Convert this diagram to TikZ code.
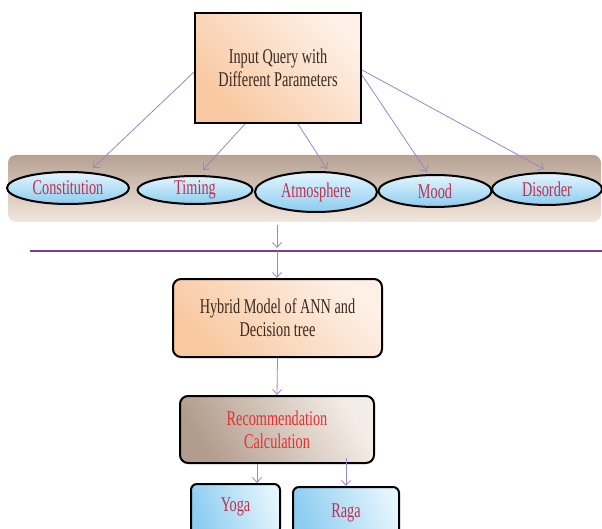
\documentclass[tikz,border=0pt]{standalone}
\usepackage{fontspec}
\setmainfont{Liberation Serif}[FakeStretch=0.68]
\usepackage{tikz}
\usetikzlibrary{shapes.geometric,arrows.meta}
\definecolor{peachA}{HTML}{F8C8A0}
\definecolor{peachB}{HTML}{FEF0E6}
\definecolor{brownA}{HTML}{B29C8C}
\definecolor{brownB}{HTML}{F4EDE7}
\definecolor{bandA}{HTML}{B6A293}
\definecolor{bandB}{HTML}{F2E7DE}
\definecolor{skyA}{HTML}{8CCDF0}
\definecolor{skyB}{HTML}{E4F5FD}
\definecolor{arrowcol}{HTML}{9A86C6}
\definecolor{barcol}{HTML}{7A3D96}
\definecolor{crimson}{HTML}{C0304F}
\definecolor{recred}{HTML}{E5302E}
\definecolor{darktext}{HTML}{3A2A22}

\begin{document}
\begin{tikzpicture}[x=1pt,y=-1pt,->,>={Straight Barb[length=5pt,width=9pt]},
        every node/.style={font=\fontsize{21}{23}\selectfont,align=center},
        peachbox/.style={draw=black,line width=2pt,text=darktext,
                left color=peachA,right color=peachB,shading angle=135},
        band/.style={draw=none,rounded corners=8pt,top color=bandA,bottom color=bandB},
        param/.style={ellipse,draw=black,line width=2pt,inner sep=0pt,text=crimson,
                top color=skyB,bottom color=skyA},
        recbox/.style={draw=black,line width=2pt,rounded corners=8pt,text=recred,
                left color=brownA,right color=brownB,shading angle=120},
        outbox/.style={draw=black,line width=2pt,rounded corners=6pt,text=crimson,
                left color=skyA,right color=skyB,shading angle=110},
        flow/.style={draw=arrowcol,line width=0.8pt}]
        \clip (0,0) rectangle (602,529);

        \node[peachbox,minimum width=166pt,minimum height=110pt] (query) at (278,68)
                {Input Query with\\Different Parameters};

        \node[band,minimum width=593pt,minimum height=67pt] (strip) at (304.5,188.5) {};

        \node[param,minimum width=122pt,minimum height=32pt] (con) at (68,188) {Constitution};
        \node[param,minimum width=115pt,minimum height=28pt] (tim) at (195,190) {Timing};
        \node[param,minimum width=122pt,minimum height=40pt] (atm) at (316,192) {Atmosphere};
        \node[param,minimum width=113pt,minimum height=32pt] (mood) at (435,191) {Mood};
        \node[param,minimum width=110pt,minimum height=32pt] (dis) at (547,189) {Disorder};

        \draw[flow] ([yshift=-4pt]query.west) -- ([xshift=25pt,yshift=3pt]con.north);
        \draw[flow] ([xshift=-33pt]query.south) -- ([xshift=8pt,yshift=5pt]tim.north);
        \draw[flow] ([xshift=20pt]query.south) -- ([xshift=11pt,yshift=2pt]atm.north);
        \draw[flow] ([yshift=-7pt]query.east) -- ([xshift=-8pt,yshift=2pt]mood.north);
        \draw[flow] ([yshift=-2pt]query.east) -- ([xshift=-3pt,yshift=3pt]dis.north);

        \coordinate (split) at (277,251);
        \coordinate (bar-l) at (30,251);
        \coordinate (bar-r) at (602,251);
        \draw[-,draw=barcol,line width=2.5pt] (bar-l) -- (bar-r);
        \draw[flow] ([yshift=-3pt]split |- strip.south) -- ([yshift=3pt]split);

        \node[peachbox,rounded corners=8pt,minimum width=209pt,minimum height=78pt] (hybrid)
                at (277.5,318) {Hybrid Model of ANN and\\Decision tree};
        \draw[flow] (split) -- (split |- hybrid.north);

        \node[recbox,minimum width=194pt,minimum height=67pt] (rec) at (277,429.5)
                {Recommendation\\Calculation};
        \draw[flow] (hybrid.south) -- (rec.north);

        \node[outbox,minimum width=89pt,minimum height=50pt,text depth=8pt] (yoga) at (235.5,509) {Yoga};
        \node[outbox,minimum width=106pt,minimum height=50pt,text depth=2pt] (raga) at (346,512) {Raga};

        \draw[flow] ([xshift=-20pt]rec.south) -- ([xshift=-20pt]rec.south |- yoga.north);
        \draw[flow] ([xshift=69pt,yshift=6pt]rec.south) -- ([xshift=69pt]rec.south |- raga.north);
\end{tikzpicture}
\end{document}
